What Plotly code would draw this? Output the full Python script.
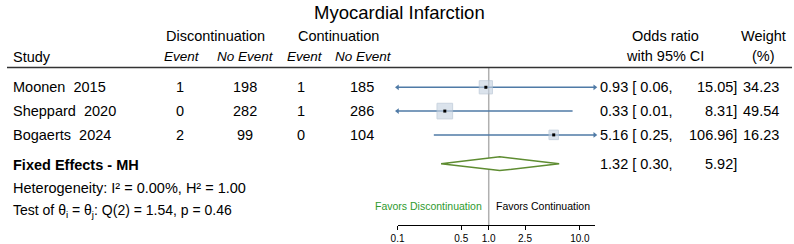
import math
import plotly.graph_objects as go

W, H = 794, 244

# ---------------- data ----------------
title = "Myocardial Infarction"
studies = ["Moonen\u00a0\u00a02015", "Sheppard\u00a0\u00a02020", "Bogaerts\u00a0\u00a02024"]
disc_event = [1, 0, 2]
disc_noevent = [198, 282, 99]
cont_event = [1, 1, 0]
cont_noevent = [185, 286, 104]
odds_ratio = [0.93, 0.33, 5.16]
ci_low = [0.06, 0.01, 0.25]
ci_high = [15.05, 8.31, 106.96]
weights = [34.23, 49.54, 16.23]
pooled_label = "Fixed Effects - MH"
pooled_or = 1.32
pooled_low = 0.30
pooled_high = 5.92
heterogeneity = "Heterogeneity: I\u00b2 = 0.00%, H\u00b2 = 1.00"
test_text = "Test of \u03b8<sub>i</sub> = \u03b8<sub>j</sub>: Q(2) = 1.54, p = 0.46"
tick_vals = [0.1, 0.5, 1.0, 2.5, 10.0]
tick_text = ["0.1", "0.5", "1.0", "2.5", "10.0"]
favors_left = "Favors Discontinuation"
favors_right = "Favors Continuation"

# ---------------- layout helpers ----------------
AX_L, AX_R = 394, 593          # pixel extent of forest axis
AX_BOTTOM = 227                # pixel y of axis line
XMIN, XMAX = 0.1, 14.55
row_y = [88, 112, 136]
pooled_y = 165
FONT = "Liberation Sans, Arial, Helvetica, sans-serif"
LINE_COL = "#4f7aa6"
FS = 14.5

def px(x):
    return x / W

def py(y):
    return 1 - y / H

fig = go.Figure()

# CI lines with arrows when clipped
for i in range(len(studies)):
    lo = max(ci_low[i], XMIN)
    hi = min(ci_high[i], XMAX)
    fig.add_trace(go.Scatter(x=[lo, hi], y=[row_y[i], row_y[i]], mode="lines",
                             line=dict(color=LINE_COL, width=1.5), hoverinfo="skip",
                             showlegend=False))
    if ci_low[i] < XMIN:
        fig.add_trace(go.Scatter(x=[XMIN], y=[row_y[i]], mode="markers",
                                 marker=dict(symbol="triangle-left", size=5, color=LINE_COL),
                                 cliponaxis=False, showlegend=False, hoverinfo="skip"))
    if ci_high[i] > XMAX:
        fig.add_trace(go.Scatter(x=[XMAX], y=[row_y[i]], mode="markers",
                                 marker=dict(symbol="triangle-right", size=5, color=LINE_COL),
                                 cliponaxis=False, showlegend=False, hoverinfo="skip"))

# weight squares
fig.add_trace(go.Scatter(
    x=odds_ratio, y=row_y, mode="markers",
    marker=dict(symbol="square", size=[1.2 + 2.05 * math.sqrt(w) for w in weights],
                color="rgba(200,212,226,0.9)", line=dict(color="#b4c3d3", width=1)),
    showlegend=False, hoverinfo="skip", cliponaxis=False))
fig.add_trace(go.Scatter(
    x=odds_ratio, y=row_y, mode="markers",
    marker=dict(symbol="square", size=3, color="black"),
    showlegend=False, hoverinfo="skip", cliponaxis=False))

# pooled diamond
fig.add_trace(go.Scatter(
    x=[pooled_low, pooled_or, pooled_high, pooled_or, pooled_low],
    y=[pooled_y, pooled_y - 7, pooled_y, pooled_y + 7, pooled_y],
    mode="lines", line=dict(color="#5e8c31", width=1.5),
    fill="toself", fillcolor="white", showlegend=False, hoverinfo="skip"))

# reference line at OR = 1
fig.add_shape(type="line", xref="x", yref="y", x0=1, x1=1, y0=68, y1=AX_BOTTOM,
              line=dict(color="#b0b0b0", width=1.5), layer="below")
# header rule
fig.add_shape(type="line", xref="paper", yref="paper", x0=0, x1=px(792),
              y0=py(68), y1=py(68), line=dict(color="#333333", width=1.5))

ann = []

def text(x, y, s, size=FS, anchor="center", color="black", bold=False, italic=False):
    if bold:
        s = "<b>" + s + "</b>"
    if italic:
        s = "<i>" + s + "</i>"
    ann.append(dict(x=px(x), y=py(y), xref="paper", yref="paper", text=s,
                    showarrow=False, xanchor=anchor, yanchor="middle",
                    borderpad=0,
                    font=dict(family=FONT, size=size, color=color)))

text(396, 13, title, size=18.5)
text(210, 36, "Discontinuation")
text(334, 36, "Continuation")
text(5, 57, "Study", anchor="left")
text(177, 57, "Event", size=13.5, italic=True)
text(241, 57, "No Event", size=13.5, italic=True)
text(301, 57, "Event", size=13.5, italic=True)
text(360, 57, "No Event", size=13.5, italic=True)
text(664, 36, "Odds ratio")
text(664, 56, "with 95% CI")
text(763, 36, "Weight")
text(763, 56, "(%)")

for i in range(len(studies)):
    y = row_y[i]
    text(5, y, studies[i], anchor="left")
    text(175, y, str(disc_event[i]))
    text(240, y, str(disc_noevent[i]))
    text(297, y, str(cont_event[i]))
    text(358, y, str(cont_noevent[i]))
    text(597, y, f"{odds_ratio[i]:.2f} [ {ci_low[i]:.2f},", anchor="left")
    text(738, y, f"{ci_high[i]:.2f}]", anchor="right")
    text(780, y, f"{weights[i]:.2f}", anchor="right")

text(5, 166, pooled_label, bold=True, anchor="left")
text(597, pooled_y, f"{pooled_or:.2f} [ {pooled_low:.2f},", anchor="left")
text(738, pooled_y, f"{pooled_high:.2f}]", anchor="right")
text(5, 190, heterogeneity, anchor="left")
text(5, 213, test_text, size=14, anchor="left")
text(480, 208, favors_left, size=10.5, anchor="right", color="#2e9a2e")
text(492, 208, favors_right, size=10.5, anchor="left")

fig.update_layout(
    width=W, height=H, margin=dict(l=0, r=0, t=0, b=0),
    paper_bgcolor="white", plot_bgcolor="white",
    annotations=ann, showlegend=False,
    xaxis=dict(type="log", domain=[px(AX_L), px(AX_R)],
               range=[math.log10(XMIN), math.log10(XMAX)],
               tickvals=tick_vals, ticktext=tick_text,
               ticks="outside", ticklen=4, tickcolor="black", tickwidth=1,
               showline=True, linecolor="black", linewidth=1,
               showgrid=False, zeroline=False,
               tickfont=dict(family=FONT, size=10, color="black")),
    yaxis=dict(domain=[py(AX_BOTTOM), 1], range=[AX_BOTTOM, 0],
               visible=False, showgrid=False, zeroline=False),
)

fig.write_html("out.html")
